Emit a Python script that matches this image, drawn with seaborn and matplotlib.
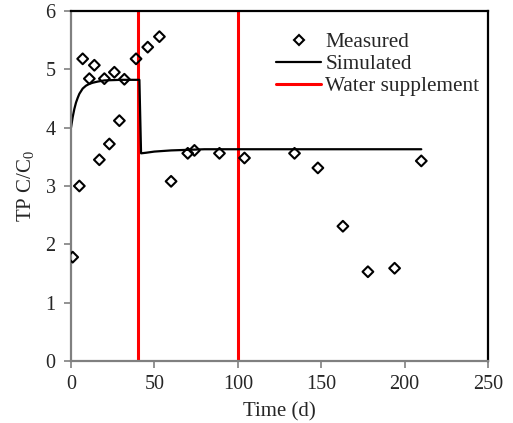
import matplotlib
matplotlib.use("Agg")
import matplotlib.pyplot as plt
import seaborn as sns
import pandas as pd
from matplotlib.lines import Line2D

# Measured TP concentration ratio (days, C/C0)
measured_day = [1, 5, 7, 11, 14, 17, 20, 23, 26, 29, 32, 39, 46, 53,
                60, 70, 74, 89, 104, 134, 148, 163, 178, 194, 210]
measured_ratio = [1.78, 3.00, 5.18, 4.84, 5.07, 3.45, 4.84, 3.72, 4.95, 4.12, 4.83, 5.18, 5.38, 5.56,
                  3.08, 3.56, 3.61, 3.56, 3.48, 3.56, 3.31, 2.31, 1.53, 1.59, 3.43]

# Simulated curve (days, C/C0)
sim_day = [0, 1, 2, 3, 4, 5, 7, 9, 11, 13, 16, 20, 30, 41,
           42, 45, 50, 60, 70, 80, 100, 150, 210]
sim_ratio = [4.00, 4.18, 4.32, 4.43, 4.51, 4.58, 4.67, 4.72, 4.75, 4.77, 4.79, 4.81, 4.82, 4.82,
             3.56, 3.57, 3.59, 3.61, 3.62, 3.63, 3.63, 3.63, 3.63]

# Days of water supplement
supplement_days = [40, 100]

x_ticks = [0, 50, 100, 150, 200, 250]
y_ticks = [0, 1, 2, 3, 4, 5, 6]

sns.set_theme(style="white")
plt.rcParams["font.family"] = ["Liberation Serif", "DejaVu Serif"]
plt.rcParams["mathtext.fontset"] = "custom"
plt.rcParams["mathtext.rm"] = "Liberation Serif"

fig = plt.figure(figsize=(5.13, 4.23), dpi=100)
ax = fig.add_axes([0.1384, 0.1466, 0.8129, 0.8274])

meas_df = pd.DataFrame({"day": measured_day, "ratio": measured_ratio})
sim_df = pd.DataFrame({"day": sim_day, "ratio": sim_ratio})

for d in supplement_days:
    ax.axvline(d, color="#ff0000", lw=2.2, zorder=1)

sns.lineplot(data=sim_df, x="day", y="ratio", ax=ax, color="black", lw=1.6,
             sort=False, estimator=None, zorder=2)
sns.scatterplot(data=meas_df, x="day", y="ratio", ax=ax, marker="D", s=30,
                facecolor="none", edgecolor="black", linewidth=1.5, zorder=3)

ax.set_xlim(0, 250)
ax.set_ylim(0, 6)
ax.set_xticks(x_ticks)
ax.set_yticks(y_ticks)
ax.tick_params(axis="both", labelsize=14.5, length=5, width=1.2, color="#808080",
               direction="out", bottom=True, left=True)
ax.tick_params(axis="x", pad=5)
ax.tick_params(axis="y", pad=6)
ax.set_xlabel("Time (d)", fontsize=15, labelpad=6)
ax.set_ylabel(r"TP C/C$_\mathregular{0}$", fontsize=15, labelpad=6)

for side in ["left", "bottom"]:
    ax.spines[side].set_color("#808080")
    ax.spines[side].set_linewidth(1.6)
for side in ["top", "right"]:
    ax.spines[side].set_color("black")
    ax.spines[side].set_linewidth(1.6)

handles = [
    Line2D([], [], ls="none", marker="D", ms=5.5, mfc="none", mec="black", mew=1.5),
    Line2D([], [], color="black", lw=1.6),
    Line2D([], [], color="#ff0000", lw=2.2),
]
labels = ["Measured", "Simulated", "Water supplement"]
ax.legend(handles, labels, loc="upper right", bbox_to_anchor=(1.01, 0.975),
          frameon=False, fontsize=15.3, handlelength=2.1, handletextpad=0.2,
          labelspacing=0.1, borderaxespad=0.2)

fig.savefig("out.png", dpi=100)
